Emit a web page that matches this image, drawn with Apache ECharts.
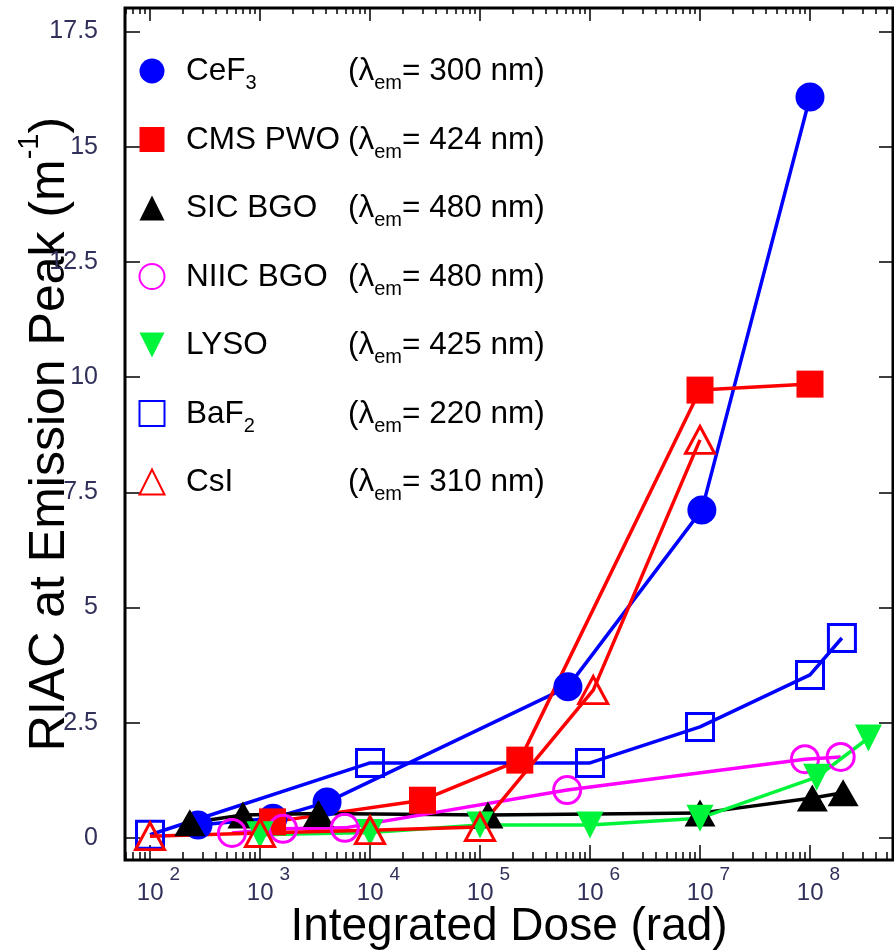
<!DOCTYPE html>
<html><head><meta charset="utf-8">
<script src="https://cdn.jsdelivr.net/npm/echarts@6/dist/echarts.min.js"></script>
<style>html,body{margin:0;padding:0;background:#fff}#c{width:894px;height:952px}</style>
</head><body><div id="c"></div>
<script>
// ---------------- data ----------------
const seriesNames = ['CeF3', 'CMS PWO', 'SIC BGO', 'NIIC BGO', 'LYSO', 'BaF2', 'CsI'];
const nameBase = ['CeF', 'CMS PWO', 'SIC BGO', 'NIIC BGO', 'LYSO', 'BaF', 'CsI'];
const nameSub = ['3', '', '', '', '', '2', ''];
const emissionNm = [300, 424, 480, 480, 425, 220, 310];

const cef3Dose = [273, 1313, 4070, 6.3e5, 1.04e7, 1e8];
const cef3Riac = [0.28, 0.43, 0.78, 3.28, 7.12, 16.08];
const pwoDose = [1300, 3.0e4, 2.3e5, 1e7, 1e8];
const pwoRiac = [0.35, 0.82, 1.69, 9.72, 9.85];
const sicDose = [230, 700, 3400, 1.18e5, 1e7, 1.05e8, 2e8];
const sicRiac = [0.33, 0.5, 0.53, 0.5, 0.54, 0.87, 0.98];
const niicDose = [556, 1620, 5900, 6.2e5, 9e7, 1.9e8];
const niicRiac = [0.11, 0.2, 0.22, 1.04, 1.71, 1.76];
const lysoDose = [1e3, 1e4, 1e5, 1e6, 1e7, 1.15e8, 3.4e8];
const lysoRiac = [0.07, 0.12, 0.28, 0.28, 0.43, 1.32, 2.17];
const baf2Dose = [100, 1e4, 1e6, 1e7, 1e8, 1.95e8];
const baf2Riac = [0.07, 1.63, 1.63, 2.41, 3.54, 4.34];
const csiDose = [100, 1e3, 1e4, 1e5, 1.07e6, 1e7];
const csiRiac = [0.04, 0.11, 0.17, 0.24, 3.21, 8.64];

const yTickValues = [0, 2.5, 5, 7.5, 10, 12.5, 15, 17.5];
const xTickExponents = [2, 3, 4, 5, 6, 7, 8];

// ---------------- layout ----------------
const FONT = '"Liberation Sans", Arial, Helvetica, sans-serif';
const TICK_COLOR = '#30305a';
const GL = 125, GR = 893, GT = 8, GB = 860;
const W = 894, H = 952;
const DECADE = 110, X2 = 150;          // px of one decade, px of 10^2
const xMin = Math.pow(10, 2 - (X2 - GL) / DECADE);
const xMax = Math.pow(10, 2 + (GR - X2) / DECADE);
const Y0 = 838, PX_PER_UNIT = 115.2 / 2.5;
const yMin = -(GB - Y0) / PX_PER_UNIT;
const yMax = (Y0 - GT) / PX_PER_UNIT;

const xMajor = xTickExponents.map(e => Math.pow(10, e));
const xMinor = [];
for (let e = 1; e <= 8; e++) for (let m = 2; m <= 9; m++) {
  const v = m * Math.pow(10, e);
  if (v > xMin && v < xMax) xMinor.push(v);
}

const chart = echarts.init(document.getElementById('c'), null, {renderer: 'canvas', width: W, height: H});

// measuring for legend columns
const mctx = document.createElement('canvas').getContext('2d');
function tw(t, s) { mctx.font = s + 'px ' + FONT; return mctx.measureText(t).width; }
const LG_FS = 31.5, LG_SUB = 20, NAME_COL = 162;
const legendRich = {
  g: {width: 16.5, fontSize: LG_FS, lineHeight: 31, verticalAlign: 'top'},
  b: {fontSize: LG_FS, lineHeight: 31, verticalAlign: 'top', color: '#000', fontFamily: FONT},
  s: {fontSize: LG_SUB, lineHeight: 20, padding: [18, 0, 0, 0], verticalAlign: 'top', color: '#000', fontFamily: FONT}
};
seriesNames.forEach((n, i) => {
  const wb = tw(nameBase[i], LG_FS);
  if (nameSub[i]) {
    legendRich['s' + i] = Object.assign({}, legendRich.s, {width: Math.max(NAME_COL - wb, tw(nameSub[i], LG_SUB))});
  } else {
    legendRich['b' + i] = Object.assign({}, legendRich.b, {width: Math.max(NAME_COL, wb)});
  }
});

const INV_TRI = 'path://M0,0L10,0L5,10Z';
const TRI = 'path://M5,0L10,10L0,10Z';
const CIRC = 'circle';
const SQR = 'path://M0,0L10,0L10,10L0,10Z';

const styles = [
  {color: '#0000ff', symbol: 'circle', size: 29, filled: true, icon: CIRC},
  {color: '#ff0000', symbol: 'rect', size: 27, filled: true, icon: SQR},
  {color: '#000000', symbol: 'triangle', size: [31, 27], filled: true, icon: TRI},
  {color: '#ff00ff', symbol: 'circle', size: 27, filled: false, icon: CIRC},
  {color: '#00f53a', symbol: INV_TRI, size: [27, 27], filled: true, icon: INV_TRI},
  {color: '#0000ff', symbol: 'rect', size: 27, filled: false, icon: SQR},
  {color: '#ff0000', symbol: 'triangle', size: [29, 27], filled: false, icon: TRI}
];
const doses = [cef3Dose, pwoDose, sicDose, niicDose, lysoDose, baf2Dose, csiDose];
const riacs = [cef3Riac, pwoRiac, sicRiac, niicRiac, lysoRiac, baf2Riac, csiRiac];

function itemStyleOf(st, bw) {
  return st.filled ? {color: st.color, borderWidth: 0}
                   : {color: 'rgba(255,255,255,0)', borderColor: st.color, borderWidth: bw};
}

const series = seriesNames.map((n, i) => ({
  name: n, type: 'line', xAxisIndex: 0, yAxisIndex: 0,
  data: doses[i].map((d, k) => [d, riacs[i][k]]),
  symbol: styles[i].symbol, symbolSize: styles[i].size, showAllSymbol: true,
  lineStyle: {color: styles[i].color, width: 3.5},
  itemStyle: itemStyleOf(styles[i], 3),
  emphasis: {disabled: true}, clip: true, animation: false
}));

const xBase = {type: 'log', logBase: 10, min: xMin, max: xMax, splitLine: {show: false},
  axisLine: {show: false, onZero: false}, axisLabel: {show: false}, minorTick: {show: false}, minorSplitLine: {show: false}};
const yBase = {type: 'value', min: yMin, max: yMax, splitLine: {show: false},
  axisLine: {show: false, onZero: false}, axisLabel: {show: false}, axisTick: {show: false}};
const tickLine = {color: '#000', width: 1.5};

chart.setOption({
  animation: false,
  backgroundColor: '#fff',
  grid: [
    {left: GL, right: W - GR, top: GT, bottom: H - GB, show: true, borderWidth: 3, borderColor: '#000',
     backgroundColor: 'transparent', containLabel: false, outerBoundsMode: 'none'},
    {left: GL, right: W - GR, top: GT, bottom: H - GB, show: false, containLabel: false, outerBoundsMode: 'none'}
  ],
  xAxis: [
    Object.assign({}, xBase, {gridIndex: 0, position: 'bottom',
      axisTick: {show: true, inside: true, length: 15, lineStyle: tickLine, customValues: xMajor},
      axisLabel: {show: true, customValues: xMajor, margin: 5,
        formatter: v => '{p| }{b|10}{e|' + Math.round(Math.log10(v)) + '}',
        rich: {
          p: {width: 17, fontSize: 19},
          b: {fontSize: 24, lineHeight: 24, padding: [16, 0, 0, 0], verticalAlign: 'top', color: TICK_COLOR, fontFamily: FONT},
          e: {fontSize: 19, lineHeight: 19, padding: [0, 0, 0, 6], verticalAlign: 'top', color: TICK_COLOR, fontFamily: FONT}
        }},
      name: 'Integrated Dose (rad)', nameLocation: 'middle', nameGap: 44, nameMoveOverlap: false,
      nameTextStyle: {fontSize: 46, color: '#000', fontFamily: FONT}}),
    Object.assign({}, xBase, {gridIndex: 0, position: 'top',
      axisTick: {show: true, inside: true, length: 13, lineStyle: tickLine, customValues: xMajor}}),
    Object.assign({}, xBase, {gridIndex: 1, position: 'bottom',
      axisTick: {show: true, inside: true, length: 8, lineStyle: tickLine, customValues: xMinor}}),
    Object.assign({}, xBase, {gridIndex: 1, position: 'top',
      axisTick: {show: true, inside: true, length: 6, lineStyle: tickLine, customValues: xMinor}})
  ],
  yAxis: [
    Object.assign({}, yBase, {gridIndex: 0, position: 'left',
      axisTick: {show: true, inside: true, length: 15, lineStyle: tickLine, customValues: yTickValues},
      axisLabel: {show: true, customValues: yTickValues, margin: 27, fontSize: 25, color: TICK_COLOR, fontFamily: FONT},
      name: '{b|RIAC at Emission Peak (m}{sup|-1}{b|)}', nameLocation: 'middle', nameGap: 60, nameRotate: 90,
      nameMoveOverlap: false,
      nameTextStyle: {fontSize: 50, color: '#000', fontFamily: FONT,
        rich: {
          b: {fontSize: 50, lineHeight: 50, padding: [10, 0, 0, 0], verticalAlign: 'top', color: '#000', fontFamily: FONT},
          sup: {fontSize: 29, lineHeight: 29, verticalAlign: 'top', color: '#000', fontFamily: FONT}
        }}}),
    Object.assign({}, yBase, {gridIndex: 0, position: 'right',
      axisTick: {show: true, inside: true, length: 14, lineStyle: tickLine, customValues: yTickValues}}),
    Object.assign({}, yBase, {gridIndex: 1, position: 'left'})
  ],
  legend: {
    orient: 'vertical', left: 138.5, top: 55.5, padding: 0, itemGap: 30.5,
    itemWidth: 25, itemHeight: 25, selectedMode: false, symbolKeepAspect: true,
    data: seriesNames.map((n, i) => ({name: n, icon: styles[i].icon, itemStyle: itemStyleOf(styles[i], 2)})),
    formatter: name => {
      const i = seriesNames.indexOf(name);
      let s = '{g| }';
      s += nameSub[i] ? '{b|' + nameBase[i] + '}{s' + i + '|' + nameSub[i] + '}' : '{b' + i + '|' + nameBase[i] + '}';
      s += '{b|(λ}{s|em}{b|= ' + emissionNm[i] + ' nm)}';
      return s;
    },
    textStyle: {fontSize: LG_FS, color: '#000', fontFamily: FONT, rich: legendRich}
  },
  series: series
});
</script></body></html>
